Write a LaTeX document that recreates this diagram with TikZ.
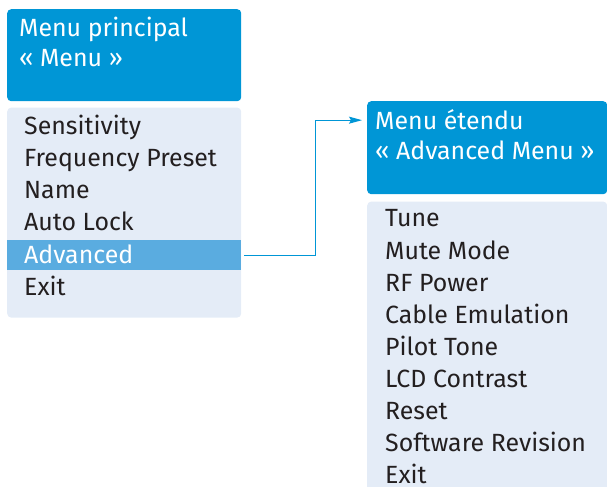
\documentclass[tikz,border=0pt]{standalone}
\usepackage{fontspec}
\setmainfont{Fira Sans}
\usetikzlibrary{arrows, arrows.meta, positioning}
\definecolor{hdblue}{RGB}{0,150,214}
\definecolor{lstbg}{RGB}{228,236,247}
\definecolor{selbg}{RGB}{90,172,224}
\definecolor{txt}{RGB}{35,31,32}
\tikzstyle{line} = [draw, hdblue, line width=1.2bp, -{Stealth[length=13bp,width=7bp,inset=2bp]}]

\begin{document}
\begin{tikzpicture}[x=1bp,y=1bp,
 head/.style={rectangle,rounded corners=4bp,fill=hdblue,inner sep=0,minimum width=#1},
 lst/.style={rectangle,rounded corners=4bp,fill=lstbg,inner sep=0,minimum width=#1},
 item/.style={anchor=base west,inner sep=0,font=\fontsize{25}{29}\selectfont}]
 \useasboundingbox (0,0) rectangle (607,-487);

 % main menu
 \node[head=234bp,minimum height=92bp,anchor=north west] (M) at (7,-9) {};
 \node[item,text=white] (M1) at (19,-37) {Menu principal};
 \node[item,text=white] (M2) at (19,-67) {« Menu »};
 \node[lst=234bp,minimum height=210bp,below=6bp of M.south west,anchor=north west] (ML) {};
 \node[fill=selbg,inner sep=0,minimum width=234bp,minimum height=30bp,anchor=north west] (sel) at (7,-240) {};
 \foreach \t/\c [count=\i] in {Sensitivity/txt, Frequency Preset/txt, Name/txt, Auto Lock/txt, Advanced/white, Exit/txt}
  \node[item,text=\c] (m\i) at (24,-135-32*\i+32) {\t};

 % advanced menu
 \node[head=240bp,minimum height=93bp,anchor=north west] (A) at (367,-101) {};
 \node[item,text=white] (A1) at (375,-130) {Menu étendu};
 \node[item,text=white] (A2) at (375,-160) {« Advanced Menu »};
 \node[lst=240bp,minimum height=300bp,below=7bp of A.south west,anchor=north west] (AL) {};
 \foreach \t [count=\i] in {Tune, Mute Mode, RF Power, Cable Emulation, Pilot Tone, LCD Contrast, Reset, Software Revision, Exit}
  \node[item,text=txt] (a\i) at (385,-227-32*\i+32) {\t};

 \draw[line, shorten <=3bp] (sel.east) -- ++(74,0) |- ([xshift=-13bp]A1.west);
\end{tikzpicture}
\end{document}
